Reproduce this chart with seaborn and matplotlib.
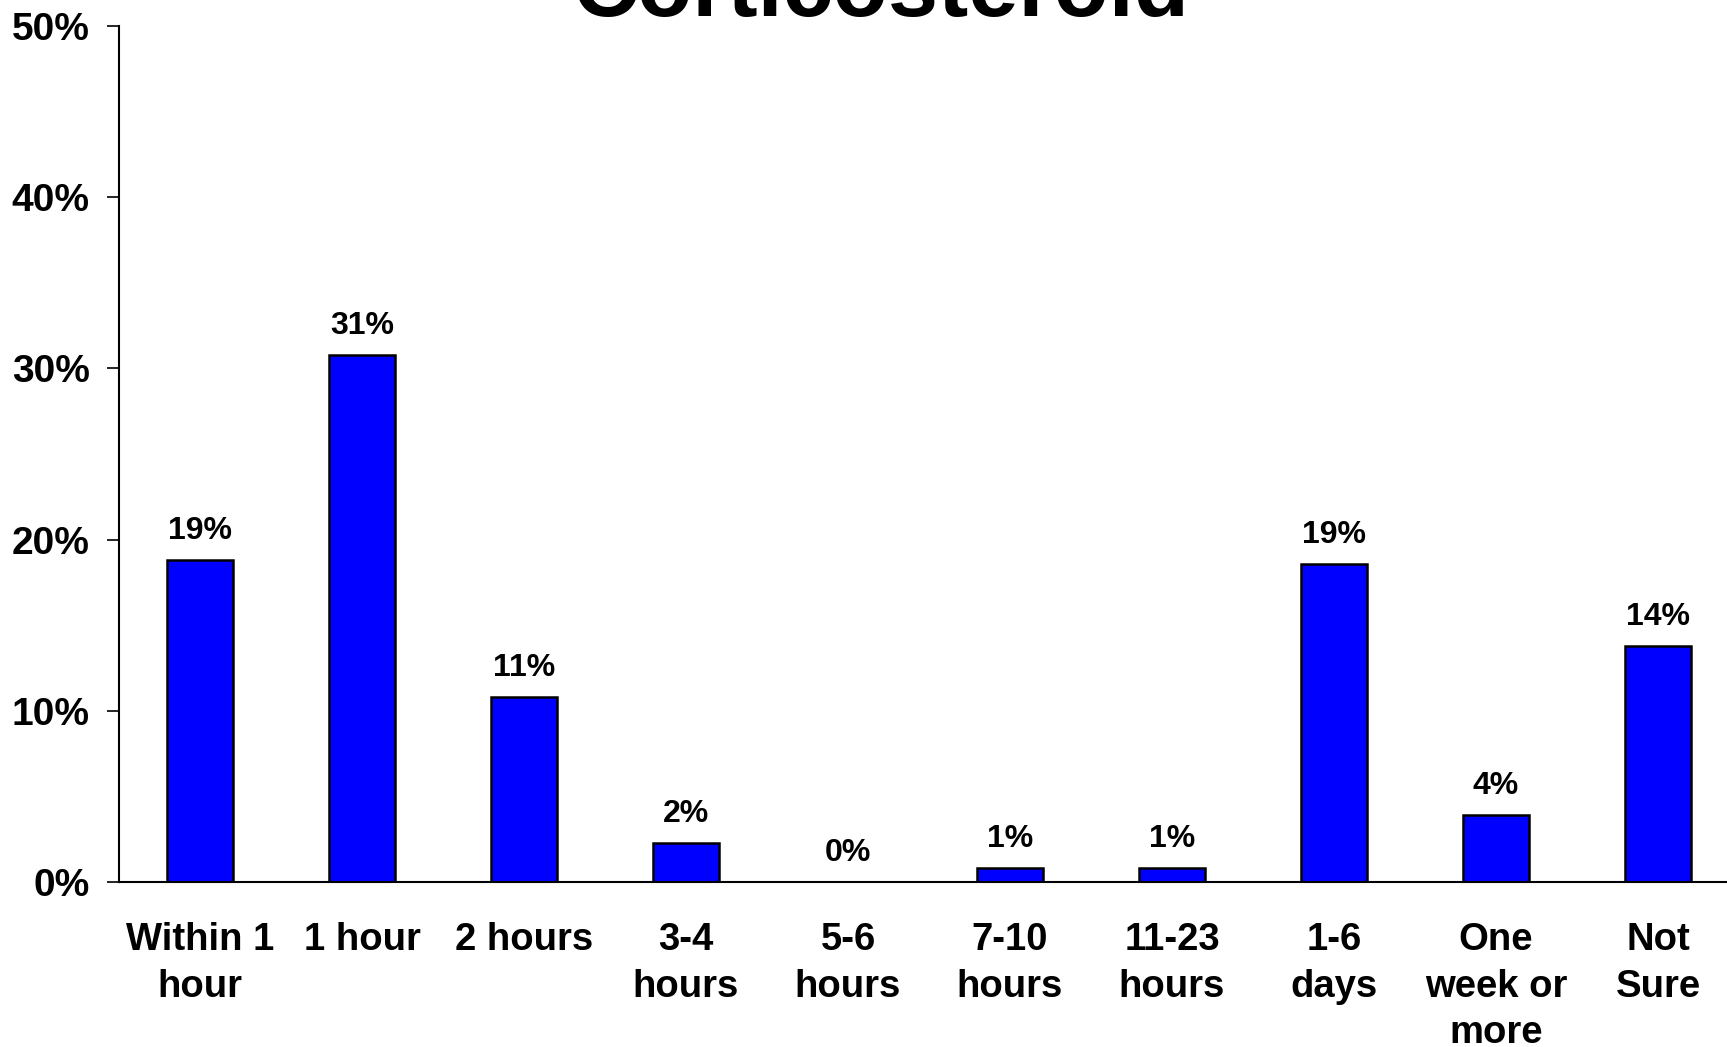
import matplotlib
matplotlib.use("Agg")
import matplotlib.pyplot as plt
import seaborn as sns
import pandas as pd

categories = ["Within 1\nhour", "1 hour", "2 hours", "3-4\nhours", "5-6\nhours",
              "7-10\nhours", "11-23\nhours", "1-6\ndays", "One\nweek or\nmore", "Not\nSure"]
values = [18.8, 30.8, 10.8, 2.3, 0.0, 0.8, 0.8, 18.6, 3.9, 13.8]
value_labels = ["19%", "31%", "11%", "2%", "0%", "1%", "1%", "19%", "4%", "14%"]
y_ticks = [0, 10, 20, 30, 40, 50]
title = "Corticosteroid"

sns.set_theme(style="white")
plt.rcParams['font.family'] = ['Liberation Sans', 'DejaVu Sans']
plt.rcParams['font.weight'] = 'bold'
plt.rcParams['text.color'] = 'black'
plt.rcParams['xtick.color'] = 'black'
plt.rcParams['ytick.color'] = 'black'
plt.rcParams['xtick.labelcolor'] = 'black'
plt.rcParams['ytick.labelcolor'] = 'black'

W, H = 1727, 1047
fig = plt.figure(figsize=(W / 100, H / 100), dpi=100)
ax = fig.add_axes([119 / W, (H - 882) / H, 1620 / W, (882 - 26) / H])

df = pd.DataFrame({"cat": categories, "val": values})
sns.barplot(data=df, x="cat", y="val", color="#0000FF", saturation=1,
            edgecolor="black", linewidth=1.8, width=0.41, ax=ax)

ax.set_xlim(-0.5, 9.5)
ax.set_ylim(0, 50)
ax.set_yticks(y_ticks)
ax.set_yticklabels([f"{t}%" for t in y_ticks], fontsize=28, fontweight='bold', color='black')
ax.set_xlabel("")
ax.set_ylabel("")
for lbl in ax.get_xticklabels():
    lbl.set_fontsize(27.5)
    lbl.set_fontweight('bold')
    lbl.set_color('black')
    lbl.set_linespacing(1.37)
ax.tick_params(axis='x', length=0, pad=29)
ax.tick_params(axis='y', length=9, width=1.2, color='black', direction='out', pad=12, left=True)

for s in ['top', 'right']:
    ax.spines[s].set_visible(False)
for s in ['left', 'bottom']:
    ax.spines[s].set_color('black')
    ax.spines[s].set_linewidth(1.5)

ax.bar_label(ax.containers[0], labels=value_labels, padding=10,
             fontsize=23, fontweight='bold', color='black')

fig.text(0.51, 1 - 16 / H, title, ha='center', va='baseline',
         fontsize=65, fontweight='bold', color='black')

fig.savefig("out.png", dpi=100, facecolor='white')
